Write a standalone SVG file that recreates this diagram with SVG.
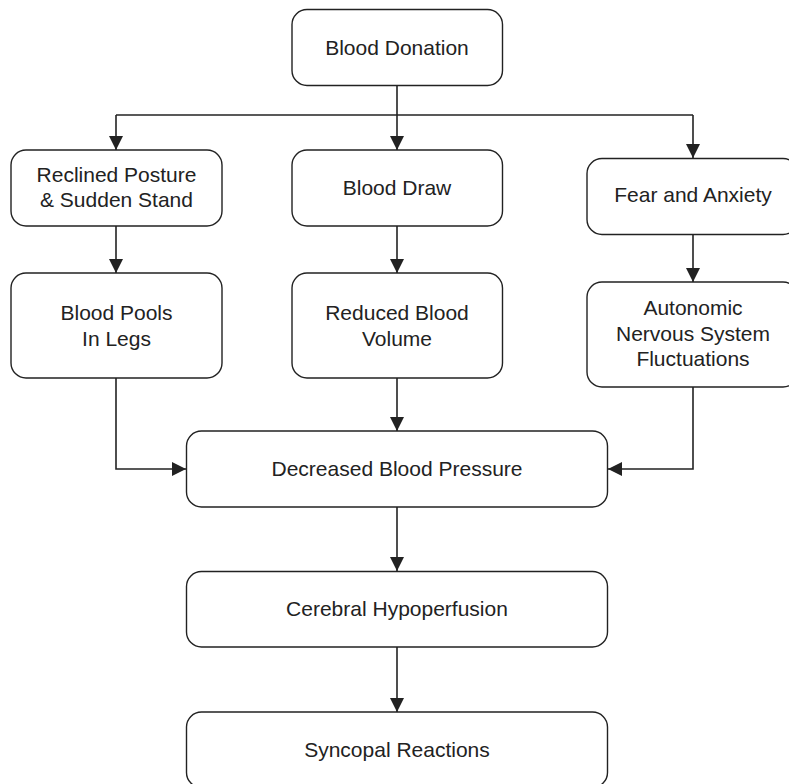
<svg xmlns="http://www.w3.org/2000/svg" width="789" height="784" viewBox="0 0 789 784">
<style>
.box{fill:#fff;stroke:#222;stroke-width:1.4}
.t{font-family:"Liberation Sans",Arial,sans-serif;font-size:21px;fill:#222;text-anchor:middle}
.c{fill:none;stroke:#222;stroke-width:1.6}
</style>
<defs>
<marker id="ah" markerUnits="userSpaceOnUse" markerWidth="14" markerHeight="14" refX="14" refY="7" orient="auto">
<path d="M0,0 L14,7 L0,14 z" fill="#222"/>
</marker>
</defs>
<rect width="789" height="784" fill="#fff"/>
<g id="connectors">
<path class="c" d="M397,86 V115"/>
<path class="c" d="M116,115 H693"/>
<path class="c" d="M397,115 V150" marker-end="url(#ah)"/>
<path class="c" d="M116,115 V150" marker-end="url(#ah)"/>
<path class="c" d="M693,115 V158" marker-end="url(#ah)"/>
<path class="c" d="M116,226 V273" marker-end="url(#ah)"/>
<path class="c" d="M397,226 V273" marker-end="url(#ah)"/>
<path class="c" d="M693,234 V282" marker-end="url(#ah)"/>
<path class="c" d="M116,378 V469 H186" marker-end="url(#ah)"/>
<path class="c" d="M397,378 V431" marker-end="url(#ah)"/>
<path class="c" d="M693,387 V469 H608" marker-end="url(#ah)"/>
<path class="c" d="M397,507 V571" marker-end="url(#ah)"/>
<path class="c" d="M397,647 V712" marker-end="url(#ah)"/>
</g>
<g id="blood-donation">
<rect class="box" x="292" y="9.5" width="210.5" height="76" rx="15"/>
<text class="t" x="397" y="55">Blood Donation</text>
</g>
<g id="reclined-posture">
<rect class="box" x="11" y="150" width="211" height="76" rx="15"/>
<text class="t" x="116.5" y="182">Reclined Posture</text>
<text class="t" x="116.5" y="207">&amp; Sudden Stand</text>
</g>
<g id="blood-draw">
<rect class="box" x="292" y="150" width="210.5" height="76" rx="15"/>
<text class="t" x="397" y="195">Blood Draw</text>
</g>
<g id="fear-anxiety">
<rect class="box" x="587" y="158.5" width="211" height="76" rx="15"/>
<text class="t" x="693" y="202">Fear and Anxiety</text>
</g>
<g id="blood-pools">
<rect class="box" x="11" y="273" width="211" height="105" rx="15"/>
<text class="t" x="116.5" y="320">Blood Pools</text>
<text class="t" x="116.5" y="346">In Legs</text>
</g>
<g id="reduced-volume">
<rect class="box" x="292" y="273" width="210.5" height="105" rx="15"/>
<text class="t" x="397" y="320">Reduced Blood</text>
<text class="t" x="397" y="346">Volume</text>
</g>
<g id="autonomic">
<rect class="box" x="587" y="282" width="211" height="105" rx="15"/>
<text class="t" x="693" y="315">Autonomic</text>
<text class="t" x="693" y="341">Nervous System</text>
<text class="t" x="693" y="366">Fluctuations</text>
</g>
<g id="decreased-bp">
<rect class="box" x="186.5" y="431" width="421" height="76" rx="15"/>
<text class="t" x="397" y="476">Decreased Blood Pressure</text>
</g>
<g id="cerebral">
<rect class="box" x="186.5" y="571.5" width="421" height="75.5" rx="15"/>
<text class="t" x="397" y="616">Cerebral Hypoperfusion</text>
</g>
<g id="syncopal">
<rect class="box" x="186.5" y="712" width="421" height="75.5" rx="15"/>
<text class="t" x="397" y="757">Syncopal Reactions</text>
</g>
</svg>
